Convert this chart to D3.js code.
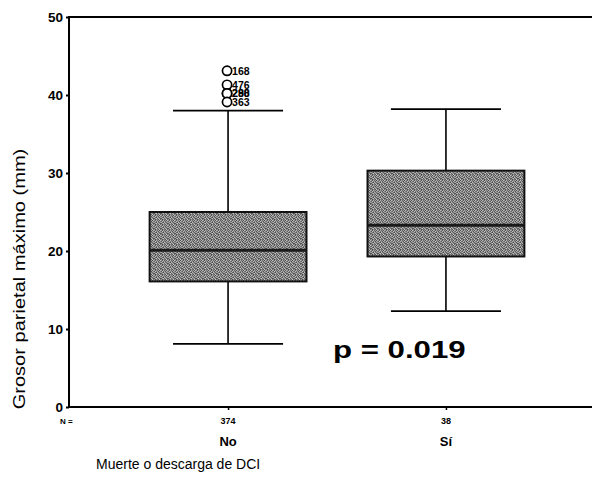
<!DOCTYPE html>
<html>
<head>
<meta charset="utf-8">
<script src="https://cdn.jsdelivr.net/npm/d3@7"></script>
<style>
  html, body { margin: 0; padding: 0; background: #fff; }
  svg { display: block; font-family: Arial, "Liberation Sans", sans-serif; }
</style>
</head>
<body>
<svg id="chart" width="592" height="501"></svg>
<script>
// Box-plot summaries per group
const groups   = ["No", "Sí"];
const counts   = [374, 38];
const whiskLo  = [8.1, 12.3];
const q1       = [16.1, 19.3];
const medians  = [20.1, 23.3];
const q3       = [25.0, 30.3];
const whiskHi  = [38.0, 38.2];

// Outlying cases in the "No" group
const outlierValues = [43.1, 41.3, 40.2, 40.2, 39.1];
const outlierIds    = ["168", "476", "290", "288", "363"];

const yTicks = [0, 10, 20, 30, 40, 50];
const pLabel = "p = 0.019";

const svg = d3.select("#chart");

const y = d3.scaleLinear().domain([0, 50]).range([407, 17]);
const x = d3.scalePoint().domain(groups).range([69, 605]).padding(0.73);
const step = x.step();
const boxW = step * 0.72;
const capW = step * 0.505;

// grainy grey fill for the boxes
const defs = svg.append("defs");
const pat = defs.append("pattern")
  .attr("id", "grain").attr("patternUnits", "userSpaceOnUse")
  .attr("width", 7).attr("height", 5);
const grainRows = [
  "#8e8e8e#5a5a5a#b0b0b0#6a6a6a#a0a0a0#4c4c4c#bcbcbc",
  "#606060#c0c0c0#767676#9a9a9a#525252#b2b2b2#7c7c7c",
  "#a8a8a8#727272#4a4a4a#b8b8b8#848484#646464#9c9c9c",
  "#565656#9e9e9e#c4c4c4#626262#aaaaaa#8a8a8a#505050",
  "#969696#484848#888888#7a7a7a#585858#c6c6c6#6e6e6e"
];
grainRows.forEach((row, r) => {
  row.split("#").filter(Boolean).forEach((c, i) => {
    pat.append("rect").attr("x", i).attr("y", r).attr("width", 1).attr("height", 1).attr("fill", "#" + c);
  });
});

// frame: left axis, top and bottom rules
const axisG = svg.append("g");
axisG.append("line").attr("x1", 69).attr("x2", 69).attr("y1", y(50)).attr("y2", y(0) + 1)
  .attr("stroke", "#000").attr("stroke-width", 2);
axisG.append("line").attr("x1", 68).attr("x2", 592).attr("y1", y(50)).attr("y2", y(50))
  .attr("stroke", "#000").attr("stroke-width", 2);
axisG.append("line").attr("x1", 68).attr("x2", 592).attr("y1", y(0)).attr("y2", y(0))
  .attr("stroke", "#000").attr("stroke-width", 2);

// y ticks and labels
const yAxis = d3.axisLeft(y).tickValues(yTicks).tickSize(3).tickPadding(3).tickFormat(d3.format("d"));
const yg = svg.append("g").attr("transform", "translate(69,0)").call(yAxis);
yg.select(".domain").remove();
yg.selectAll(".tick line").attr("stroke", "#000").attr("stroke-width", 2);
yg.selectAll(".tick text").attr("font-size", 13.5).attr("font-weight", "bold")
  .attr("font-family", "Arial, 'Liberation Sans', sans-serif").attr("fill", "#000");

// x ticks on the bottom rule
const xAxis = d3.axisBottom(x).tickSize(3).tickFormat("");
const xg = svg.append("g").attr("transform", `translate(0,${y(0)})`).call(xAxis);
xg.select(".domain").remove();
xg.selectAll(".tick line").attr("stroke", "#000").attr("stroke-width", 1.5);

// boxes
const data = groups.map((g, i) => ({
  g, n: counts[i], lo: whiskLo[i], q1: q1[i], med: medians[i], q3: q3[i], hi: whiskHi[i]
}));

const box = svg.append("g").selectAll("g").data(data).join("g");
box.append("line").attr("x1", d => x(d.g)).attr("x2", d => x(d.g))
  .attr("y1", d => y(d.hi)).attr("y2", d => y(d.q3)).attr("stroke", "#000").attr("stroke-width", 1.6);
box.append("line").attr("x1", d => x(d.g)).attr("x2", d => x(d.g))
  .attr("y1", d => y(d.q1)).attr("y2", d => y(d.lo)).attr("stroke", "#000").attr("stroke-width", 1.6);
box.append("line").attr("x1", d => x(d.g) - capW / 2).attr("x2", d => x(d.g) + capW / 2)
  .attr("y1", d => y(d.hi)).attr("y2", d => y(d.hi)).attr("stroke", "#000").attr("stroke-width", 1.8);
box.append("line").attr("x1", d => x(d.g) - capW / 2).attr("x2", d => x(d.g) + capW / 2)
  .attr("y1", d => y(d.lo)).attr("y2", d => y(d.lo)).attr("stroke", "#000").attr("stroke-width", 1.8);
box.append("rect")
  .attr("x", d => x(d.g) - boxW / 2).attr("width", boxW)
  .attr("y", d => y(d.q3)).attr("height", d => y(d.q1) - y(d.q3))
  .attr("fill", "url(#grain)").attr("stroke", "#111").attr("stroke-width", 2);
box.append("line").attr("x1", d => x(d.g) - boxW / 2).attr("x2", d => x(d.g) + boxW / 2)
  .attr("y1", d => y(d.med)).attr("y2", d => y(d.med)).attr("stroke", "#1a1a1a").attr("stroke-width", 3);

// outliers
const outG = svg.append("g");
outlierValues.forEach((v, i) => {
  outG.append("circle").attr("cx", x("No") - 1).attr("cy", y(v)).attr("r", 4.6)
    .attr("fill", "#fff").attr("stroke", "#000").attr("stroke-width", 1.7);
});
outlierValues.forEach((v, i) => {
  outG.append("text").attr("x", x("No") + 4).attr("y", y(v) + 4)
    .attr("font-size", 10.5).attr("font-weight", "bold").attr("fill", "#000").text(outlierIds[i]);
});

// group sizes and group names
svg.append("text").attr("x", 60).attr("y", 424).attr("font-size", 8).attr("font-weight", "bold").text("N =");
svg.append("g").selectAll("text").data(data).join("text")
  .attr("x", d => x(d.g)).attr("y", 424).attr("text-anchor", "middle")
  .attr("font-size", 9).attr("font-weight", "bold").text(d => d.n);
svg.append("g").selectAll("text").data(data).join("text")
  .attr("x", d => x(d.g)).attr("y", 446).attr("text-anchor", "middle")
  .attr("font-size", 13).attr("font-weight", "bold").text(d => d.g);

// axis titles
svg.append("text").attr("transform", "translate(25,279) rotate(-90) scale(1.18,1)")
  .attr("text-anchor", "middle").attr("font-size", 17).text("Grosor parietal máximo (mm)");
svg.append("text").attr("x", 96).attr("y", 469).attr("font-size", 14).text("Muerte o descarga de DCI");

// test result
svg.append("text").attr("transform", "translate(333,358) scale(1.3,1)")
  .attr("font-size", 24).attr("font-weight", "bold").text(pLabel);
</script>
</body>
</html>
